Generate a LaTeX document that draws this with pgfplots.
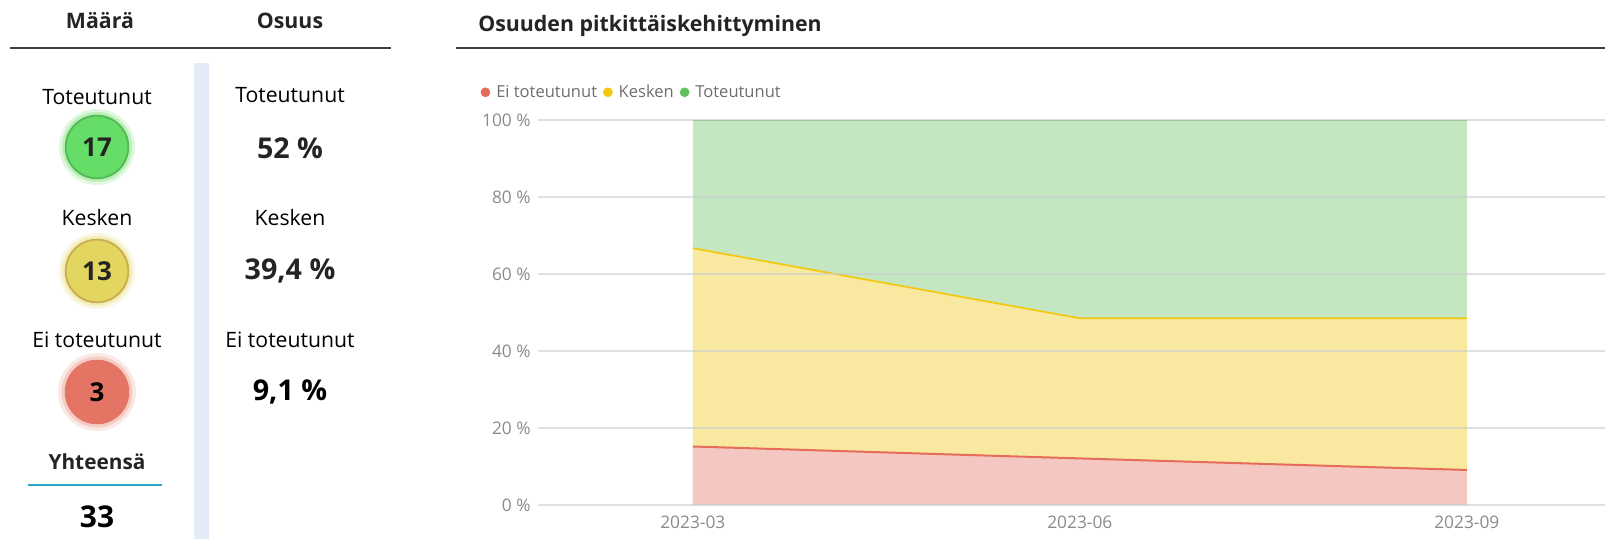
\documentclass[border=0pt]{standalone}
\usepackage{fontspec}
\setmainfont{Open Sans}
\usepackage{pgfplots}
\pgfplotsset{compat=1.18}
\usepackage{pgfplotstable}
\definecolor{hdr}{HTML}{252423}
\definecolor{rule}{HTML}{3F3F3F}
\definecolor{bluebar}{HTML}{E1ECF7}
\definecolor{blueline}{HTML}{2AA5C8}
\definecolor{greenfill}{HTML}{C4E7C2}
\definecolor{greenline}{HTML}{62C05F}
\definecolor{yellowfill}{HTML}{F9E8A0}
\definecolor{yellowline}{HTML}{F2C811}
\definecolor{redfill}{HTML}{F4C7C2}
\definecolor{redline}{HTML}{E66C5A}
\definecolor{cgreen}{HTML}{66DD66}
\definecolor{cgreenb}{HTML}{55B955}
\definecolor{cyellow}{HTML}{E2D660}
\definecolor{cyellowb}{HTML}{C8AE4C}
\definecolor{cred}{HTML}{E47463}
\definecolor{credb}{HTML}{E47463}
\definecolor{tickgrey}{HTML}{8A8A8A}
\definecolor{leggrey}{HTML}{6E6E6E}
\definecolor{gridgrey}{HTML}{C8CDD0}

\pgfplotstableread{
x ei kesken tot
0 15.2 51.5 33.3
1 12.1 36.4 51.5
2 9.1 39.4 51.5
}\shares

\newcommand{\fs}[1]{\fontsize{#1}{#1}\selectfont}

\begin{document}
\begin{tikzpicture}[x=0.75pt,y=-0.75pt]
\useasboundingbox (0,0) rectangle (1605,539);
\coordinate (axpos) at (538,505);
% ---- left panel
\node[text=hdr,font=\fs{16}\bfseries] at (100,21) {Määrä};
\node[text=hdr,font=\fs{16}\bfseries] at (290,21) {Osuus};
\draw[rule,line width=1.9pt] (10,48) -- (391,48);
\fill[bluebar] (194,63) rectangle (209,539);

\node[font=\fs{15.9}] at (97,97) {Toteutunut};
\fill[cgreen,opacity=0.2] (97,147) circle (38);
\fill[cgreen,opacity=0.3] (97,147) circle (35);
\node[circle,minimum size=47pt,inner sep=0pt,fill=cgreen,draw=cgreenb,line width=1.4pt,font=\fs{19.5}\bfseries,text=hdr] at (97,147) {17};

\node[font=\fs{15.9}] at (97,218) {Kesken};
\fill[cyellow,opacity=0.2] (97,271) circle (38);
\fill[cyellow,opacity=0.3] (97,271) circle (35);
\node[circle,minimum size=47pt,inner sep=0pt,fill=cyellow,draw=cyellowb,line width=1.4pt,font=\fs{19.5}\bfseries,text=hdr] at (97,271) {13};

\node[font=\fs{15.9}] at (97,340) {Ei toteutunut};
\fill[cred,opacity=0.17] (97,392) circle (39);
\fill[cred,opacity=0.25] (97,392) circle (35.5);
\node[circle,minimum size=47pt,inner sep=0pt,fill=cred,draw=credb,line width=1.4pt,font=\fs{19.5}\bfseries,text=black] at (97,392) {3};

\node[text=hdr,font=\fs{15.6}\bfseries] at (97,462) {Yhteensä};
\draw[blueline,line width=1.5pt] (28,485) -- (162,485);
\node[font=\fs{22.5}\bfseries] at (97,517) {33};

\node[font=\fs{15.9}] at (290,95) {Toteutunut};
\node[text=hdr,font=\fs{21.5}\bfseries] at (290,148) {52 \%};
\node[font=\fs{15.9}] at (290,218) {Kesken};
\node[text=hdr,font=\fs{21.5}\bfseries] at (290,271) {39,4 \%};
\node[font=\fs{15.9}] at (290,340) {Ei toteutunut};
\node[font=\fs{21.5}\bfseries] at (290,392) {9,1 \%};

% ---- right panel
\node[anchor=west,inner sep=0pt,text=hdr,font=\fs{16}\bfseries] at (478,26) {Osuuden pitkittäiskehittyminen};
\draw[rule,line width=1.9pt] (456,48) -- (1605,48);

\begin{scope}[x=1cm,y=1cm]
\begin{axis}[
  at={(axpos)}, anchor=south west,
  scale only axis, width=800.25pt, height=288.75pt,
  xmin=-0.4, xmax=2.357, ymin=0, ymax=100,
  axis line style={draw=none},
  major tick length=0pt,
  xtick={0,1,2}, xticklabels={2023-03,2023-06,2023-09},
  ytick={0,20,40,60,80,100},
  yticklabels={0 \%,20 \%,40 \%,60 \%,80 \%,100 \%},
  ymajorgrids, grid style={gridgrey, line width=1pt, opacity=0.6},
  axis on top,
  tick label style={text=tickgrey, font=\fs{13}},
  xticklabel style={yshift=-4.5pt},
  yticklabel style={xshift=-2pt},
  legend style={at={(-0.054,1.072)}, anchor=west, draw=none, fill=none,
    inner sep=0pt, font=\fs{12.4}, text=leggrey,
    nodes={inner xsep=1.5pt}},
  legend columns=3,
  /tikz/every even column/.append style={column sep=3pt},
  /tikz/every odd column/.append style={column sep=3pt},
]
\addlegendimage{legend image code/.code={\fill[redline] (0pt,0pt) circle (3.4pt);}}
\addlegendentry{Ei toteutunut}
\addlegendimage{legend image code/.code={\fill[yellowline] (0pt,0pt) circle (3.4pt);}}
\addlegendentry{Kesken}
\addlegendimage{legend image code/.code={\fill[greenline] (0pt,0pt) circle (3.4pt);}}
\addlegendentry{Toteutunut}

\addplot[fill=greenfill, draw=none, forget plot] table[x=x, y expr=\thisrow{ei}+\thisrow{kesken}+\thisrow{tot}] {\shares} \closedcycle;
\addplot[fill=yellowfill, draw=none, forget plot] table[x=x, y expr=\thisrow{ei}+\thisrow{kesken}] {\shares} \closedcycle;
\addplot[fill=redfill, draw=none, forget plot] table[x=x, y=ei] {\shares} \closedcycle;
\addplot[greenline, line width=1.4pt, forget plot] table[x=x, y expr=\thisrow{ei}+\thisrow{kesken}+\thisrow{tot}] {\shares};
\addplot[yellowline, line width=1.3pt, forget plot] table[x=x, y expr=\thisrow{ei}+\thisrow{kesken}] {\shares};
\addplot[redline, line width=1.5pt, forget plot] table[x=x, y=ei] {\shares};
\end{axis}
\end{scope}
\end{tikzpicture}
\end{document}
